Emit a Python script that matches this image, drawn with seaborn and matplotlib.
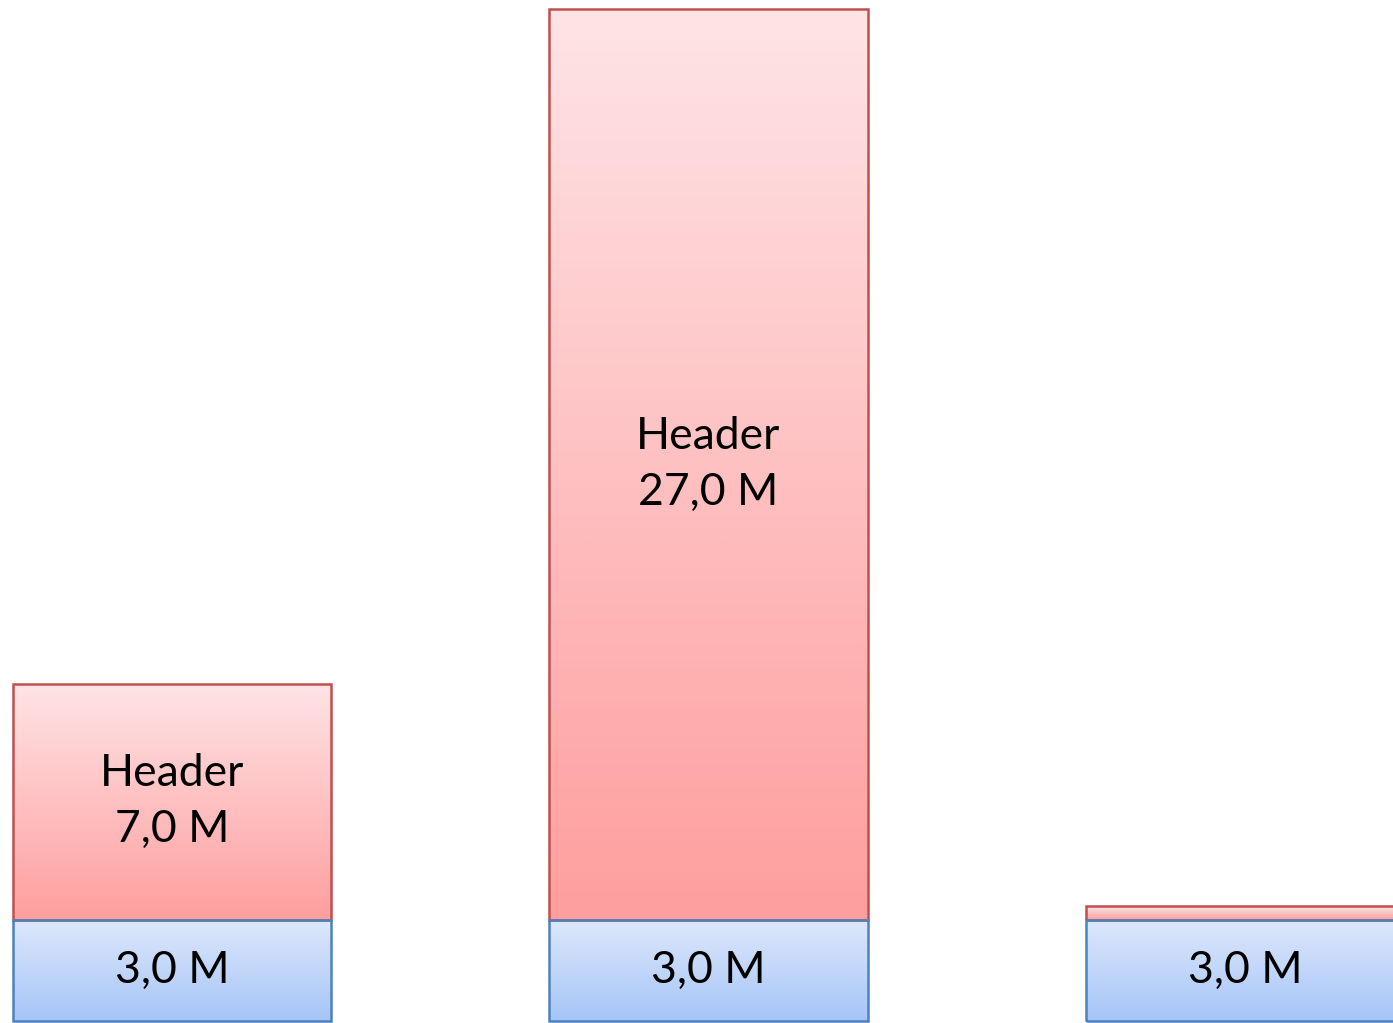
import numpy as np
import pandas as pd
import matplotlib
matplotlib.use("Agg")
import matplotlib.pyplot as plt
import seaborn as sns
from matplotlib.colors import LinearSegmentedColormap

# ---- data ----
categories = ["A", "B", "C"]
base_values = [3.0, 3.0, 3.0]          # blue segment (M)
header_values = [7.0, 27.0, 0.4]       # red segment (M)
base_labels = ["3,0 M", "3,0 M", "3,0 M"]
header_labels = ["Header\n7,0 M", "Header\n27,0 M", ""]

sns.set_theme(style="white")
plt.rcParams["font.family"] = ["Lato", "DejaVu Sans"]

fig = plt.figure(figsize=(13.93, 10.23), dpi=100)
ax = fig.add_axes([0, 0, 1, 1])

blue_edge = "#4F81BD"
red_edge = "#C0504D"
blue_cmap = LinearSegmentedColormap.from_list("b", ["#A6C5F7", "#DDE8FC"])
red_cmap = LinearSegmentedColormap.from_list("r", ["#FE9E9E", "#FFE4E6"])

# draw the two segments as seaborn bars; header bars stacked on top of base
sns.barplot(x=categories, y=[b + h for b, h in zip(base_values, header_values)],
            ax=ax, width=0.593, color="#FE9E9E", saturation=1)
sns.barplot(x=categories, y=base_values, ax=ax, width=0.593,
            color="#A6C5F7", saturation=1)

red_patches = list(ax.containers[0])
blue_patches = list(ax.containers[1])

grad = np.linspace(0, 1, 256).reshape(-1, 1)

for p, b in zip(red_patches, base_values):
    # header segment starts at top of base
    top = p.get_y() + p.get_height()
    p.set_y(b)
    p.set_height(top - b)

def style(patches, cmap, edge):
    for p in patches:
        x0, y0 = p.get_x(), p.get_y()
        w, h = p.get_width(), p.get_height()
        p.set_facecolor("none")
        p.set_edgecolor(edge)
        p.set_linewidth(1.8)
        p.set_zorder(4)
        im = ax.imshow(grad, extent=[x0, x0 + w, y0, y0 + h], origin="lower",
                       cmap=cmap, aspect="auto", zorder=3, interpolation="bilinear")
        im.set_clip_path(p)

style(blue_patches, blue_cmap, blue_edge)
style(red_patches, red_cmap, red_edge)

for p, lab in zip(blue_patches, base_labels):
    ax.text(p.get_x() + p.get_width() / 2, p.get_y() + p.get_height() / 2, lab,
            ha="center", va="center", fontsize=32, color="black", zorder=5)
for p, lab in zip(red_patches, header_labels):
    if lab:
        ax.text(p.get_x() + p.get_width() / 2, p.get_y() + p.get_height() / 2, lab,
                ha="center", va="center", fontsize=32, color="black", zorder=5,
                linespacing=1.45)

ax.set_xlim(-0.3206, 2.276)
ax.set_ylim(-0.0593, 30.267)
ax.axis("off")
fig.savefig("out.png", dpi=100, facecolor="white")
